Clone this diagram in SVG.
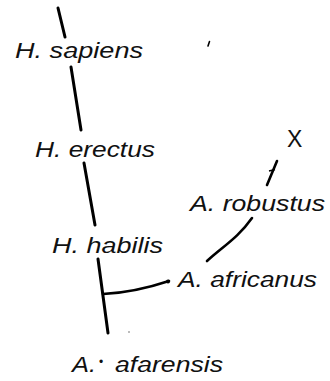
<svg xmlns="http://www.w3.org/2000/svg" width="330" height="381" viewBox="0 0 330 381">
<style>
.lbl{font-family:"Liberation Sans",Arial,Helvetica,sans-serif;font-style:italic;font-size:22px;fill:#111}
.x{font-family:"Liberation Sans",Arial,Helvetica,sans-serif;font-size:23px;fill:#111}
.ln{stroke:#000;stroke-width:3;fill:none;stroke-linecap:round}
.br{stroke:#000;stroke-width:2.6;fill:none;stroke-linecap:round}
</style>
<rect width="330" height="381" fill="#fff"/>
<g id="connectors">
<line class="ln" x1="58" y1="8" x2="65" y2="37"/>
<line class="ln" x1="71" y1="67" x2="81" y2="130"/>
<line class="ln" x1="84" y1="163" x2="95" y2="225"/>
<line class="ln" x1="98" y1="259" x2="108" y2="333"/>
<path class="br" d="M103,294 C125,293 145,289 169,281"/>
<path class="br" d="M207,261 C222,247 238,238 252,218"/>
<line class="br" x1="277" y1="161" x2="267" y2="185"/>
<line stroke="#000" stroke-width="1.5" x1="269" y1="171" x2="275" y2="169.5"/>
<circle cx="168" cy="281.5" r="2" fill="#000"/>
</g>
<g id="h-sapiens"><text class="lbl" x="15" y="58" textLength="128" lengthAdjust="spacingAndGlyphs">H. sapiens</text></g>
<g id="h-erectus"><text class="lbl" x="35" y="157" textLength="120" lengthAdjust="spacingAndGlyphs">H. erectus</text></g>
<g id="h-habilis"><text class="lbl" x="52" y="253" textLength="111" lengthAdjust="spacingAndGlyphs">H. habilis</text></g>
<g id="a-robustus"><text class="lbl" x="190" y="211" textLength="135" lengthAdjust="spacingAndGlyphs">A. robustus</text></g>
<g id="a-africanus"><text class="lbl" x="178" y="287" textLength="139" lengthAdjust="spacingAndGlyphs">A. africanus</text></g>
<g id="a-afarensis">
<text class="lbl" x="72" y="372" textLength="24" lengthAdjust="spacingAndGlyphs">A.</text>
<text class="lbl" x="99" y="366" style="font-size:12px;font-style:normal">•</text>
<text class="lbl" x="115" y="372" textLength="108" lengthAdjust="spacingAndGlyphs">afarensis</text>
</g>
<g id="x-extinct"><text class="x" x="287" y="147">X</text></g>
<path d="M209.5,41.5 L208,46" stroke="#000" stroke-width="1.6" stroke-linecap="round"/>
<circle cx="129" cy="332" r="0.8" fill="#666"/>
</svg>
